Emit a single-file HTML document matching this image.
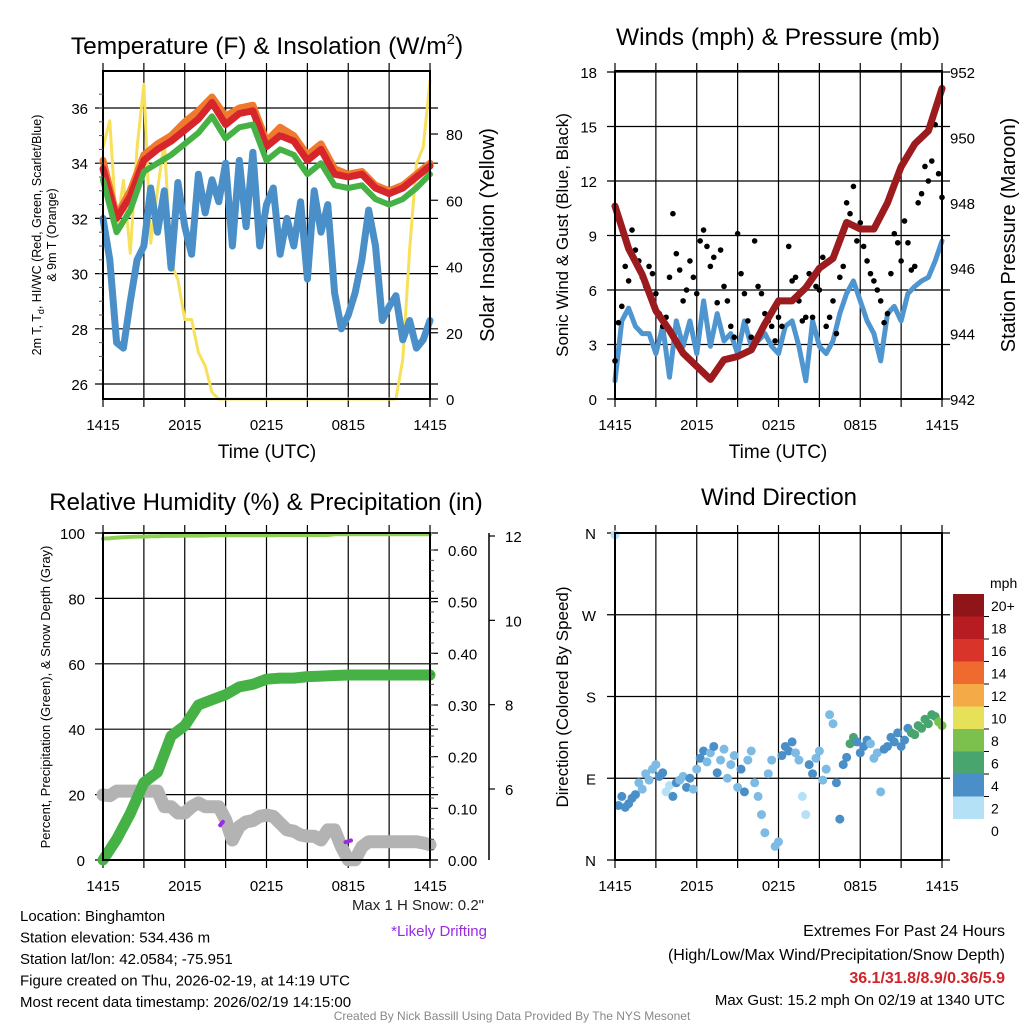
<!DOCTYPE html>
<html><head><meta charset="utf-8">
<style>
html,body{margin:0;padding:0;background:#fff;}
svg{display:block;font-family:"Liberation Sans",Arial,sans-serif;}
</style></head>
<body>
<svg id="c" width="1024" height="1024" viewBox="0 0 1024 1024" xmlns="http://www.w3.org/2000/svg"></svg>
<script>
// ---------- DATA ----------
const timeTicks = ["1415","2015","0215","0815","1415"];
const temp2m = [33.8,32.0,32.8,34.1,34.5,34.8,35.2,35.6,36.2,35.4,35.8,35.9,34.6,35.0,34.8,34.1,34.5,33.6,33.5,33.6,33.1,32.9,33.1,33.5,33.9];
const temp9m = [34.1,32.1,33.0,34.3,34.7,35.0,35.5,35.9,36.4,35.7,36.0,36.1,34.8,35.3,35.0,34.3,34.7,33.8,33.6,33.7,33.2,33.0,33.2,33.6,34.0];
const tempGreen = [33.4,31.5,32.3,33.7,34.0,34.3,34.7,35.1,35.7,34.9,35.3,35.4,34.1,34.5,34.3,33.6,34.0,33.2,33.1,33.2,32.7,32.5,32.7,33.1,33.6];
const dewpoint = [32.0,30.5,27.5,27.3,29.0,30.5,31.0,33.1,31.5,33.0,30.2,33.3,31.7,30.7,33.6,32.2,33.4,32.6,34.0,31.0,34.1,31.7,34.4,31.0,32.5,33.1,30.7,32.0,31.0,32.6,29.8,33.0,31.5,32.5,29.3,28.0,28.5,29.3,30.5,32.3,31.0,28.3,28.8,29.2,27.6,28.3,27.3,27.6,28.3];
const solar = [76,84,51,66,44,76,95,47,63,78,41,36,24,24,14,10,2,0,0,0,0,0,0,0,0,0,0,0,0,0,0,0,0,0,0,0,0,0,0,0,0,0,0,0,12,45,71,76,96];
const wind = [1.0,4.3,5.0,4.0,3.6,3.6,2.5,4.0,1.2,4.3,2.9,4.3,2.5,5.4,2.9,4.7,3.2,3.6,2.5,4.3,2.9,3.2,3.6,2.9,2.5,4.0,4.3,2.9,1.0,4.3,2.9,2.5,3.2,4.7,5.8,6.5,5.4,4.3,3.6,2.1,4.7,5.1,4.3,5.8,6.2,6.5,6.7,7.6,8.7];
const gust = [2.1,4.2,5.1,7.3,6.5,9.3,8.2,7.6,6.7,6.2,7.3,6.9,5.8,4.7,4.0,4.5,6.7,10.2,8.0,7.1,5.4,6.0,7.6,6.7,5.8,8.7,9.3,8.4,7.3,7.8,5.3,8.2,6.2,5.4,4.0,3.4,9.1,6.9,5.8,4.3,3.4,8.7,6.2,5.8,4.7,4.3,4.0,3.2,4.5,4.0,5.4,8.4,6.5,6.7,5.4,4.3,4.5,6.9,4.5,6.2,6.0,7.8,4.0,4.5,5.4,3.6,6.7,7.3,10.8,10.2,11.7,8.7,9.7,8.4,7.6,6.9,6.5,6.0,5.4,4.2,4.7,6.9,9.1,8.6,7.6,9.8,8.6,7.1,7.3,10.8,11.3,12.8,12.0,13.1,15.1,12.4,11.1];
const pressure = [947.9,946.6,945.8,944.7,944.1,943.4,943.0,942.6,943.2,943.3,943.5,944.3,945.0,945.0,945.4,946.0,946.3,947.4,947.2,947.2,948.0,949.1,949.8,950.2,951.5];
const rh = [98.3,98.4,98.6,98.7,98.8,98.9,98.9,99.0,99.0,99.1,99.1,99.1,99.2,99.2,99.2,99.2,99.3,99.3,99.3,99.3,99.3,99.3,99.3,99.3,99.3,99.3,99.4,99.4,99.4,99.4,99.4,99.4,99.4,99.4,99.6,99.6,99.6,99.6,99.6,99.6,99.6,99.6,99.6,99.6,99.6,99.6,99.6,99.6,99.6];
const precip = [0,0.04,0.09,0.15,0.17,0.24,0.26,0.30,0.31,0.32,0.335,0.34,0.35,0.352,0.352,0.355,0.356,0.357,0.358,0.358,0.358,0.358,0.358,0.358,0.358];
const snow = [5.86,5.84,5.95,5.95,5.95,5.95,5.95,5.95,5.95,5.58,5.58,5.43,5.43,5.58,5.67,5.58,5.58,5.58,5.27,4.79,5.11,5.22,5.25,5.35,5.38,5.35,5.19,5.03,5.0,4.91,4.88,4.88,4.79,5.03,5.03,4.63,4.32,4.32,4.63,4.75,4.75,4.75,4.75,4.75,4.75,4.75,4.75,4.72,4.68];
const driftHours = [8.6,8.8,17.8,18.2];
const driftSnow = [5.14,5.22,4.74,4.78];
const windDir = [358,60,70,58,62,68,72,85,78,95,88,100,105,92,96,75,82,70,85,88,92,80,90,78,100,112,120,108,118,125,96,110,122,90,105,115,80,100,75,110,120,85,70,50,30,95,110,15,20,115,125,120,130,118,110,70,50,105,95,112,120,88,100,160,150,85,45,105,113,128,135,130,118,125,132,128,112,118,75,122,125,135,130,140,125,132,145,140,138,148,145,155,150,160,158,152,148];
const speedColors = ["#b5e1f7","#7dbbe5","#4a8fc7","#47a56d","#7cc04e","#e6e159","#f5aa48","#ef6a2e","#d9342a","#b81c23","#8f1519"];
const speedLabels = ["0","2","4","6","8","10","12","14","16","18","20+"];

// ---------- HELPERS ----------
const svg = document.getElementById('c');
const NS = "http://www.w3.org/2000/svg";
function el(tag, attrs, parent){
  const e = document.createElementNS(NS, tag);
  for (const k in attrs) e.setAttribute(k, attrs[k]);
  (parent||svg).appendChild(e);
  return e;
}
function txt(s, x, y, size, anchor, parent, extra){
  const t = el('text', Object.assign({x:x, y:y, 'font-size':size, 'text-anchor':anchor||'middle', fill:'#000'}, extra||{}), parent);
  t.textContent = s;
  return t;
}
function linScale(d0,d1,r0,r1){ return v => r0 + (v-d0)/(d1-d0)*(r1-r0); }

const L = {x0:103, x1:430};
const R = {x0:615, x1:942};
const TOP = {y0:71, y1:399};
const BOT = {y0:533, y1:860};

function grid(box, yb, yTicks, xScale){
  const g = el('g', {});
  
  
  for (let h=0; h<=24; h+=3){
    const x = xScale(h);
    el('line',{x1:x,y1:yb.y0-8,x2:x,y2:yb.y1+8,stroke:'#000','stroke-width':1.2},g);
  }
  yTicks.forEach(y=>{ el('line',{x1:box.x0-8,y1:y,x2:box.x1+8,y2:y,stroke:'#000','stroke-width':1.2},g); });
  return g;
}
function frame(box, yb){
  const r = el('rect',{x:box.x0,y:yb.y0,width:box.x1-box.x0,height:yb.y1-yb.y0,fill:'none',stroke:'#000','stroke-width':2});
  
  
}
function xLabels(box, yb, xScale){
  const g = el('g',{});
  
  
  timeTicks.forEach((s,i)=> txt(s, xScale(i*6), yb.y1+31, 15, 'middle', g));
}
function poly(vals, xs, ys, color, w, name, step){
  const pts = vals.map((v,i)=> xs(i*step).toFixed(1)+','+ys(v).toFixed(1)).join(' ');
  const p = el('polyline',{points:pts,fill:'none',stroke:color,'stroke-width':w,'stroke-linejoin':'round','stroke-linecap':'round'});
  
  
  return p;
}

// ---------- PANEL 1: Temperature ----------
(function(){
  const xs = linScale(0,24,L.x0,L.x1);
  const yT = linScale(26,36,384,108);
  const yS = linScale(0,80,399,134);
  grid(L, TOP, [26,28,30,32,34,36].map(yT), xs);
  poly(solar, xs, yS, '#f7e15a', 3, 'solar-insolation-line', 0.5);
  poly(dewpoint, xs, yT, '#4a8fc7', 7, 'dewpoint-line', 0.5);
  poly(temp9m, xs, yT, '#ef7a2e', 7, 'temp-9m-line', 1);
  poly(temp2m, xs, yT, '#d7262b', 7, 'temp-2m-line', 1);
  poly(tempGreen, xs, yT, '#46b246', 6, 'temp-green-line', 1);
  frame(L, TOP);
  const g = el('g',{});
  
  
  [26,28,30,32,34,36].forEach(v=> txt(String(v), 88, yT(v)+6, 15, 'end', g));
  for (let v=26.5; v<37; v+=0.5){ el('line',{x1:L.x0-4,y1:yT(v),x2:L.x0,y2:yT(v),stroke:'#555','stroke-width':1},g); }
  const g2 = el('g',{});
  
  
  [0,20,40,60,80].forEach(v=>{ txt(String(v), 446, yS(v)+6, 15, 'start', g2); el('line',{x1:L.x1,y1:yS(v),x2:L.x1+8,y2:yS(v),stroke:'#000','stroke-width':1.2},g2); });
  xLabels(L, TOP, xs);
  const t = txt('', 267, 54, 24.5, 'middle');
  t.innerHTML = 'Temperature (F) &amp; Insolation (W/m<tspan font-size="15" dy="-10">2</tspan><tspan dy="10">)</tspan>';
   
  const xt = txt('Time (UTC)', 267, 458, 19);
   
  const yl = el('text',{x:0,y:0,'font-size':12.5,'text-anchor':'middle',transform:'translate(41,235) rotate(-90)'});
  yl.innerHTML = '2m T, T<tspan font-size="9" dy="3">d</tspan><tspan dy="-3">, HI/WC (Red, Green, Scarlet/Blue)</tspan>';
   
  const yl2 = txt('& 9m T (Orange)', 0, 0, 12.5, 'middle', svg, {transform:'translate(56,235) rotate(-90)'});
   
  const yr = txt('Solar Insolation (Yellow)', 0, 0, 20, 'middle', svg, {transform:'translate(494,235) rotate(-90)'});
   
})();

// ---------- PANEL 2: Winds ----------
(function(){
  const xs = linScale(0,24,R.x0,R.x1);
  const yW = linScale(0,18,399,72);
  const yP = linScale(942,952,399,72);
  grid(R, TOP, [0,3,6,9,12,15,18].map(yW), xs);
  poly(wind, xs, yW, '#4f95cf', 5, 'sonic-wind-line', 0.5);
  const gg = el('g',{});
  
  
  gust.forEach((v,i)=>{
    const c = el('circle',{cx:xs(i*0.25),cy:yW(v),r:2.8,fill:'#000'},gg);
    
    
  });
  poly(pressure, xs, yP, '#9b1b1e', 7, 'pressure-line', 1);
  frame(R, TOP);
  const g = el('g',{});
  
  
  [0,3,6,9,12,15,18].forEach(v=> txt(String(v), 597, yW(v)+6, 15, 'end', g));
  const g2 = el('g',{});
  
  
  [942,944,946,948,950,952].forEach(v=>{ txt(String(v), 950, yP(v)+6, 15, 'start', g2); });
  xLabels(R, TOP, xs);
  const t = txt('Winds (mph) & Pressure (mb)', 778, 45, 24.5);
   
  const xt = txt('Time (UTC)', 778, 458, 19);
   
  const yl = txt('Sonic Wind & Gust (Blue, Black)', 0, 0, 17, 'middle', svg, {transform:'translate(568,235) rotate(-90)'});
   
  const yr = txt('Station Pressure (Maroon)', 0, 0, 20, 'middle', svg, {transform:'translate(1015,235) rotate(-90)'});
   
})();

// ---------- PANEL 3: RH & Precip ----------
(function(){
  const xs = linScale(0,24,L.x0,L.x1);
  const yR = linScale(0,100,860,533);
  const yPr = linScale(0,0.6,860,550);
  const ySn = linScale(6,12,789,536);
  grid(L, BOT, [0,20,40,60,80,100].map(yR), xs);
  poly(snow, xs, ySn, '#b3b3b3', 13, 'snow-depth-line', 0.5);
  poly(precip, xs, yPr, '#46b246', 11, 'precipitation-line', 1);
  poly(rh, xs, yR, '#8fcf55', 4, 'relative-humidity-line', 0.5);
  for (let k=0;k<driftHours.length;k+=2){
    const p = el('polyline',{points:xs(driftHours[k])+','+ySn(driftSnow[k])+' '+xs(driftHours[k+1])+','+ySn(driftSnow[k+1]),stroke:'#9a2be2','stroke-width':4,fill:'none','stroke-linecap':'round'});
    
    
  }
  frame(L, BOT);
  const g = el('g',{});
  
  
  [0,20,40,60,80,100].forEach(v=> txt(String(v), 85, yR(v)+6, 15, 'end', g));
  const g2 = el('g',{});
  
  
  [0,0.1,0.2,0.3,0.4,0.5,0.6].forEach(v=>{ txt(v.toFixed(2), 448, yPr(v)+6, 15, 'start', g2); el('line',{x1:L.x1,y1:yPr(v),x2:L.x1+8,y2:yPr(v),stroke:'#000','stroke-width':1.2},g2); });
  for (let v=0.02; v<0.62; v+=0.02){ el('line',{x1:L.x1,y1:yPr(v),x2:L.x1+4,y2:yPr(v),stroke:'#555','stroke-width':1},g2); }
  const g3 = el('g',{});
  
  
  el('line',{x1:489,y1:533,x2:489,y2:860,stroke:'#000','stroke-width':1.5},g3);
  [6,8,10,12].forEach(v=>{ txt(String(v), 505, ySn(v)+6, 15, 'start', g3); el('line',{x1:489,y1:ySn(v),x2:495,y2:ySn(v),stroke:'#000','stroke-width':1.2},g3); });
  xLabels(L, BOT, xs);
  const t = txt('Relative Humidity (%) & Precipitation (in)', 266, 510, 24);
   
  const yl = txt('Percent, Precipitation (Green), & Snow Depth (Gray)', 0, 0, 13, 'middle', svg, {transform:'translate(50,697) rotate(-90)'});
   
})();

// ---------- PANEL 4: Wind Direction ----------
(function(){
  const xs = linScale(0,24,R.x0,R.x1);
  const yD = linScale(0,360,860,533);
  grid(R, BOT, [0,90,180,270,360].map(yD), xs);
  const gd = el('g',{});
  
  
  windDir.forEach((d,i)=>{
    const s = wind[Math.min(48, Math.round(i/2))];
    const ci = Math.min(10, Math.floor(s/2));
    const c = el('circle',{cx:xs(i*0.25),cy:yD(d),r:4.5,fill:speedColors[ci]},gd);
    
    
  });
  frame({x0:R.x0,x1:R.x1}, BOT);
  const g = el('g',{});
  
  
  ['N','E','S','W','N'].forEach((s,i)=> txt(s, 596, yD(i*90)+6, 15, 'end', g));
  xLabels(R, BOT, xs);
  const t = txt('Wind Direction', 779, 505, 24);
   
  const yl = txt('Direction (Colored By Speed)', 0, 0, 17, 'middle', svg, {transform:'translate(568,697) rotate(-90)'});
   
  const cb = el('g',{});
  
  
  const h = 22.5;
  const boxIdx = [10,9,8,7,6,5,4,3,2,0];
  for (let k=0;k<10;k++){
    el('rect',{x:953,y:594+k*h,width:31,height:h,fill:speedColors[boxIdx[k]]},cb);
  }
  txt('mph', 990, 588, 14, 'start', cb);
  speedLabels.slice().reverse().forEach((s,k)=>{
    txt(s, 991, 611+k*h, 14, 'start', cb);
    if (k>0 && k<10) el('line',{x1:984,y1:594+k*h,x2:989,y2:594+k*h,stroke:'#000','stroke-width':1},cb);
  });
})();

// ---------- Text blocks ----------
(function(){
  const g = el('g',{});
  
  
  ['Location: Binghamton','Station elevation: 534.436 m','Station lat/lon: 42.0584; -75.951','Figure created on Thu, 2026-02-19, at 14:19 UTC','Most recent data timestamp: 2026/02/19 14:15:00']
    .forEach((s,i)=> txt(s, 20, 921+i*21.5, 15, 'start', g));
  const m = txt('Max 1 H Snow: 0.2"', 484, 910, 15, 'end', svg, {fill:'#222'});
   
  const d = txt('*Likely Drifting', 487, 936, 15, 'end', svg, {fill:'#9a2be2'});
   
  const g2 = el('g',{});
  
  
  txt('Extremes For Past 24 Hours', 1005, 936, 16, 'end', g2);
  txt('(High/Low/Max Wind/Precipitation/Snow Depth)', 1005, 960, 16, 'end', g2);
  txt('36.1/31.8/8.9/0.36/5.9', 1005, 983, 16, 'end', g2, {fill:'#d0242a','font-weight':'bold'});
  txt('Max Gust: 15.2 mph On 02/19 at 1340 UTC', 1005, 1005, 15, 'end', g2);
  const f = txt('Created By Nick Bassill Using Data Provided By The NYS Mesonet', 512, 1020, 12, 'middle', svg, {fill:'#888'});
   
})();
</script>
</body></html>
